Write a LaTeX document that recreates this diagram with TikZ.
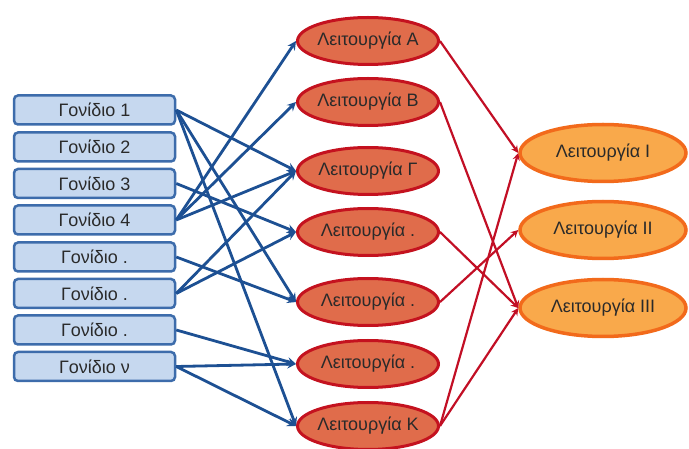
\documentclass[tikz,border=0pt]{standalone}
\usepackage{fontspec}
\setmainfont{Liberation Sans}
\usepackage{tikz}
\usetikzlibrary{shapes.geometric}
\definecolor{genefill}{HTML}{C6D8EF}
\definecolor{genedraw}{HTML}{3D6CAB}
\definecolor{linkblue}{HTML}{1D5093}
\definecolor{funcfill}{HTML}{E06C4B}
\definecolor{funcdraw}{HTML}{C4121F}
\definecolor{traitfill}{HTML}{F9A94B}
\definecolor{traitdraw}{HTML}{F26A1B}
\definecolor{linkred}{HTML}{C20F25}
\definecolor{txtgray}{HTML}{2A2A2A}
\begin{document}
\begin{tikzpicture}[
    x=1pt,y=-1pt,
    gene/.style={draw=genedraw,fill=genefill,line width=2.5pt,rounded corners=4pt,
      minimum width=161pt,minimum height=29pt,inner sep=0pt,text=txtgray,
      font=\fontsize{18}{21}\selectfont},
    func/.style={ellipse,draw=funcdraw,fill=funcfill,line width=3pt,
      minimum width=141pt,minimum height=47pt,inner xsep=-4pt,inner ysep=0pt,
      text=txtgray,font=\fontsize{18}{21}\selectfont},
    trait/.style={ellipse,draw=traitdraw,fill=traitfill,line width=3.5pt,
      minimum width=166pt,minimum height=57pt,inner sep=0pt,text=txtgray,
      font=\fontsize{18}{21}\selectfont},
    link/.style={->,>=stealth,line width=2.8pt,draw=linkblue},
    rlink/.style={->,>=stealth,line width=2.2pt,draw=linkred}
    ]
    \useasboundingbox (0,0) rectangle (689,449);
    \node[gene] (g1) at (94.5,110) {Γονίδιο 1};
    \node[gene] (g2) at (94.5,147) {Γονίδιο 2};
    \node[gene] (g3) at (94.5,183.5) {Γονίδιο 3};
    \node[gene] (g4) at (94.5,220) {Γονίδιο 4};
    \node[gene] (g5) at (94.5,257) {Γονίδιο .};
    \node[gene] (g6) at (94.5,293.5) {Γονίδιο .};
    \node[gene] (g7) at (94.5,330) {Γονίδιο .};
    \node[gene] (gn) at (94.5,366.5) {Γονίδιο ν};
    \node[func] (fA) at (368,41) {Λειτουργία Α};
    \node[func] (fB) at (368,102) {Λειτουργία Β};
    \node[func] (fG) at (368,171) {Λειτουργία Γ};
    \node[func] (f4) at (368,232) {Λειτουργία .};
    \node[func] (f5) at (368,302) {Λειτουργία .};
    \node[func] (f6) at (368,364) {Λειτουργία .};
    \node[func] (fK) at (368,426) {Λειτουργία Κ};
    \node[trait] (tI) at (603,153) {Λειτουργία Ι};
    \node[trait] (tII) at (603,230) {Λειτουργία ΙΙ};
    \node[trait] (tIII) at (603,308) {Λειτουργία ΙΙΙ};
    \draw[link] (g1.east) -- (fG.west);
    \draw[link] (g1.east) -- (f5.west);
    \draw[link] (g1.east) -- (fK.west);
    \draw[link] (g3.east) -- (f4.west);
    \draw[link] (g4.east) -- (fA.west);
    \draw[link] (g4.east) -- (fB.west);
    \draw[link] (g4.east) -- (fG.west);
    \draw[link] (g5.east) -- (f5.west);
    \draw[link] (g6.east) -- (fG.west);
    \draw[link] (g6.east) -- (f4.west);
    \draw[link] (g7.east) -- (f6.west);
    \draw[link] (gn.east) -- (f6.west);
    \draw[link] (gn.east) -- (fK.west);
    \draw[rlink] (fA.east) -- (tI.west);
    \draw[rlink] (fB.east) -- (tIII.west);
    \draw[rlink] (f4.east) -- (tIII.west);
    \draw[rlink] (f5.east) -- (tII.west);
    \draw[rlink] (fK.east) -- (tI.west);
    \draw[rlink] (fK.east) -- (tIII.west);
  \end{tikzpicture}
\end{document}
